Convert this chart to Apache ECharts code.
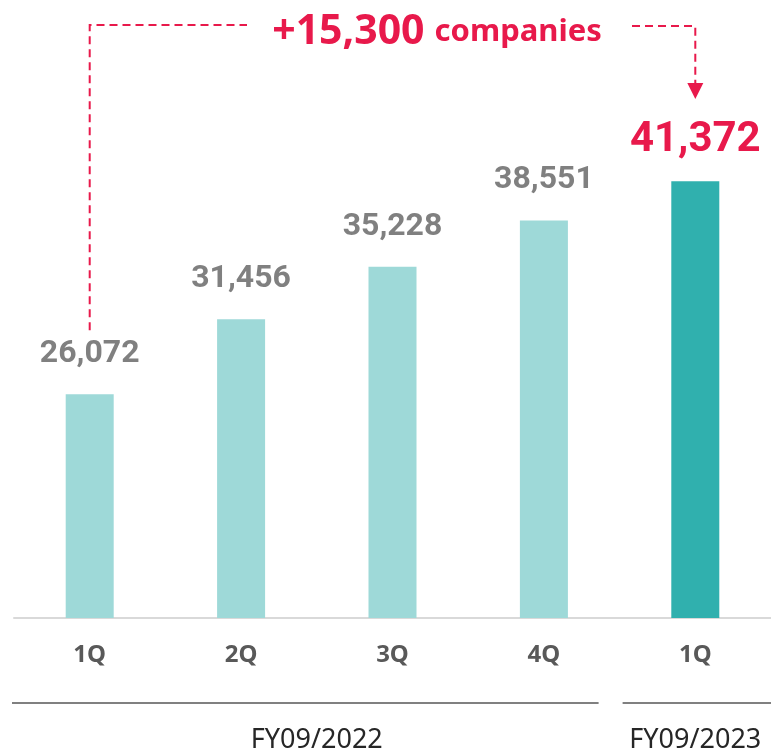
<!DOCTYPE html>
<html>
<head>
<meta charset="utf-8">
<script src="https://cdn.jsdelivr.net/npm/echarts@6/dist/echarts.min.js"></script>
<style>
  html, body { margin: 0; padding: 0; background: #fff; }
  #content { width: 771px; height: 751px; }
</style>
</head>
<body>
<div id="content"></div>
<script>
// quarters and registered companies
const categories = ['1Q', '2Q', '3Q', '4Q', '1Q'];
const values = [26072, 31456, 35228, 38551, 41372];
const fiscalYears = ['FY09/2022', 'FY09/2023'];
const yearSpans = [[0, 3], [4, 4]]; // first / last category index of each year
const growthText = '+15,300';
const growthUnit = 'companies';

const RED = '#e8194b';
const LIGHT = '#9ed9d8';
const DARK = '#30b0ae';

var chartDom = document.getElementById('content');
var myChart = echarts.init(chartDom);

const last = values.length - 1;
const barData = values.map(function (v, i) {
  if (i === last) {
    return {
      value: v,
      itemStyle: { color: DARK },
      label: { color: RED, fontSize: 42, distance: 20 }
    };
  }
  return v;
});

var option = {
  animation: false,
  grid: { left: 14, top: 61, width: 760, bottom: 133 },
  xAxis: {
    type: 'category',
    data: categories,
    axisTick: { show: false },
    axisLine: { lineStyle: { color: '#d9d9d9', width: 2 } },
    axisLabel: {
      interval: 0,
      margin: 25,
      fontFamily: 'Noto Sans',
      fontWeight: 'bold',
      fontSize: 24,
      color: '#595959'
    }
  },
  yAxis: {
    type: 'value',
    min: 10000,
    max: 50000,
    show: false,
    splitLine: { show: false }
  },
  series: [
    {
      type: 'bar',
      barWidth: 48,
      data: barData,
      itemStyle: { color: LIGHT },
      label: {
        show: true,
        position: 'top',
        distance: 24,
        fontFamily: 'Roboto',
        fontWeight: 'bold',
        fontSize: 32,
        color: '#808080',
        formatter: function (p) {
          return p.value.toLocaleString('en-US');
        }
      }
    }
  ]
};
myChart.setOption(option);

// annotation + fiscal year brackets, placed from the axis scales
function px(i) { return myChart.convertToPixel({ xAxisIndex: 0 }, i); }
function py(v) { return myChart.convertToPixel({ yAxisIndex: 0 }, v); }

const band = px(1) - px(0);
const xFirst = px(0);
const xLast = px(last);
const topY = 25;
const dash = { stroke: RED, lineWidth: 2, lineDash: [8, 5] };

var graphics = [
  // left leg up from the first bar's label
  { type: 'polyline', shape: { points: [[xFirst, py(values[0]) - 64], [xFirst, topY], [247, topY]] }, style: dash },
  // right leg down to the last bar
  { type: 'polyline', shape: { points: [[632, topY + 1], [xLast, topY + 1], [xLast, 84]] }, style: dash },
  { type: 'polygon', shape: { points: [[xLast - 8, 83], [xLast + 8, 83], [xLast, 99]] }, style: { fill: RED } },
  {
    type: 'text',
    x: 437,
    y: 32,
    style: {
      text: '{a|' + growthText + '}{b|' + growthUnit + '}',
      align: 'center',
      verticalAlign: 'middle',
      rich: {
        a: { fontFamily: 'Noto Sans', fontWeight: 'bold', fontSize: 41, fill: RED },
        b: { fontFamily: 'Noto Sans', fontWeight: 'bold', fontSize: 31, fill: RED, padding: [0, 0, 0, 10] }
      }
    }
  }
];

yearSpans.forEach(function (span, k) {
  var x1 = px(span[0]) - band / 2 + (k === 0 ? -2 : 3);
  var x2 = px(span[1]) + band / 2 - (k === 0 ? 21 : -10);
  graphics.push({
    type: 'line',
    shape: { x1: x1, y1: 703, x2: x2, y2: 703 },
    style: { stroke: '#808080', lineWidth: 2 }
  });
  graphics.push({
    type: 'text',
    x: (px(span[0]) + px(span[1])) / 2,
    y: 740,
    style: {
      text: fiscalYears[k],
      align: 'center',
      verticalAlign: 'middle',
      fontFamily: 'Noto Sans',
      fontSize: 27,
      fill: '#262626'
    }
  });
});

myChart.setOption({ graphic: graphics });
</script>
</body>
</html>
